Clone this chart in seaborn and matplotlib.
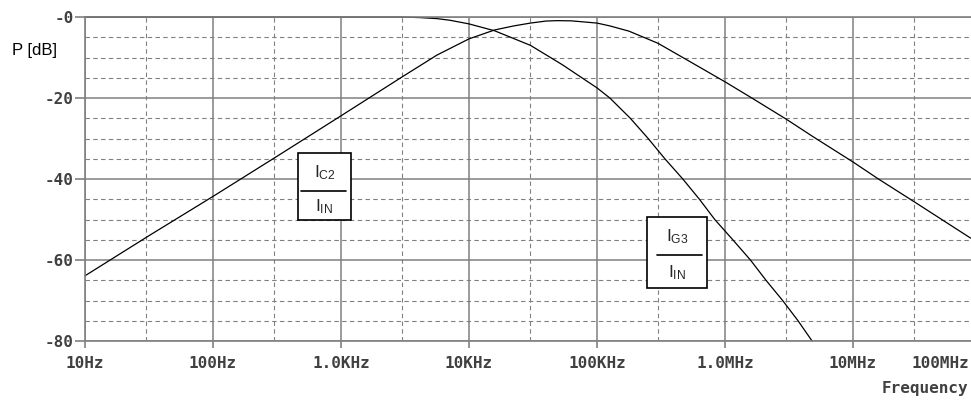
import matplotlib
matplotlib.use("Agg")
import matplotlib.pyplot as plt
import matplotlib.ticker as mticker
from matplotlib.patches import Rectangle
from matplotlib.lines import Line2D
import pandas as pd
import seaborn as sns

# I_G3 / I_IN  (low-pass)
freq_g3 = [10, 1000, 3000, 4170, 5620, 7080, 10000, 15850, 30200, 53700, 100000,
           126000, 182000, 251000, 339000, 468000, 631000, 832000, 1.15e6, 1.58e6,
           2.09e6, 2.82e6, 3.72e6, 4.79e6]
db_g3 = [0, 0, 0, -0.15, -0.4, -0.8, -1.7, -3.4, -7.0, -11.8, -17.5,
         -20, -25, -30, -35, -40, -45, -50, -55, -60,
         -65, -70, -75, -80]

# I_C2 / I_IN  (band-pass)
freq_c2 = [10, 31.6, 100, 316, 1000, 3000, 5620, 10000, 15850, 22400, 30200, 40000,
           49000, 63000, 100000, 126000, 178000, 300000, 468000, 1e6, 1.62e6, 3e6,
           4.9e6, 1e7, 1.58e7, 3e7, 8.3e7]
db_c2 = [-63.9, -54.0, -44.3, -34.4, -24.4, -14.8, -9.4, -5.4, -3.2, -2.2, -1.5, -1.0,
         -0.9, -0.95, -1.5, -2.2, -3.5, -6.5, -10, -16, -20, -25.2,
         -29.6, -35.8, -40, -45.6, -54.6]

xticks = [10, 100, 1e3, 1e4, 1e5, 1e6, 1e7, 1e8]
xlabels = ["10Hz", "100Hz", "1.0KHz", "10KHz", "100KHz", "1.0MHz", "10MHz", "100MHz"]
yticks = [-80, -60, -40, -20, 0]
ylabels = ["-80", "-60", "-40", "-20", "-0"]

df = pd.concat([
    pd.DataFrame({"f": freq_g3, "db": db_g3, "curve": "G3"}),
    pd.DataFrame({"f": freq_c2, "db": db_c2, "curve": "C2"}),
])

sns.set_style("white")
plt.rcParams["font.family"] = ["DejaVu Sans"]
plt.rcParams["mathtext.fontset"] = "custom"
plt.rcParams["mathtext.rm"] = "Liberation Sans"
plt.rcParams["mathtext.it"] = "Liberation Sans"

W, H = 971, 401
fig = plt.figure(figsize=(W / 100, H / 100), dpi=100)
ax = fig.add_axes([85 / W, 60 / H, 896 / W, 324 / H])

grid_c = "#808080"
txt_c = "#404040"
ax.set_xscale("log")
ax.set_xlim(10, 1e8)
ax.set_ylim(-80, 0)

# last decade label sits off the right edge, so it is drawn separately below
ax.set_xticks(xticks)
ax.set_xticklabels(xlabels[:-1] + [""])
ax.xaxis.set_minor_locator(mticker.LogLocator(base=10, subs=[3.0], numticks=20))
ax.xaxis.set_minor_formatter(mticker.NullFormatter())
ax.set_yticks(yticks)
ax.set_yticklabels(ylabels)
ax.yaxis.set_minor_locator(mticker.MultipleLocator(5))

ax.grid(which="major", color=grid_c, linewidth=1.1, linestyle="-")
ax.grid(which="minor", color=grid_c, linewidth=0.8, linestyle=(0, (4, 3)))
ax.set_axisbelow(True)

sns.lineplot(data=df, x="f", y="db", hue="curve", palette={"G3": "black", "C2": "black"},
             linewidth=0.9, legend=False, sort=False, estimator=None, ax=ax)
for ln in ax.lines:
    ln.set_clip_on(False)

for side in ["left", "top", "bottom"]:
    ax.spines[side].set_color(grid_c)
    ax.spines[side].set_linewidth(1.2)
ax.spines["right"].set_visible(False)

tick_font = dict(family="DejaVu Sans Mono", weight="bold", size=11.5, color=txt_c)
for lab in ax.get_xticklabels() + ax.get_yticklabels():
    lab.set_fontfamily("DejaVu Sans Mono")
    lab.set_fontweight("bold")
    lab.set_fontsize(11.5)
    lab.set_color(txt_c)
ax.tick_params(axis="y", which="major", length=7, width=1.2, color=grid_c, pad=1, left=True)
ax.tick_params(axis="x", which="major", length=5, width=1.2, color=grid_c, pad=6, bottom=True)
ax.tick_params(which="minor", length=0)
ax.set_xlabel("")
ax.set_ylabel("")

fig.text(969 / W, 1 - 363 / H, xlabels[-1], ha="right", va="center", **tick_font)
fig.text(968 / W, 1 - 389 / H, "Frequency", ha="right", va="center", **tick_font)
fig.text(12 / W, 1 - 50 / H, "P [dB]", ha="left", va="center", family="Liberation Sans",
         size=12, color="black")


def px(x, y):
    return x / W, 1 - y / H


def frac_box(x0, y0, x1, y1, ybar, bar_x0, bar_x1, num, den):
    bx, by = px(x0, y1)
    fig.patches.append(Rectangle((bx, by), (x1 - x0) / W, (y1 - y0) / H, transform=fig.transFigure,
                                 facecolor="white", edgecolor="black", linewidth=1.2, zorder=5))
    fig.lines.append(Line2D([bar_x0 / W, bar_x1 / W], [1 - ybar / H] * 2, transform=fig.transFigure,
                            color="black", linewidth=1.2, zorder=6))
    cx = (x0 + x1) / 2
    fig.text(*px(cx, (y0 + ybar) / 2 + 1), num, ha="center", va="center", size=12.5, zorder=7)
    fig.text(*px(cx, (ybar + y1) / 2 + 1), den, ha="center", va="center", size=12.5, zorder=7)


frac_box(298, 153, 351, 220, 191, 301, 346, r"$\mathrm{I_{C2}}$", r"$\mathrm{I_{IN}}$")
frac_box(647, 217, 707, 288, 255, 657, 702, r"$\mathrm{I_{G3}}$", r"$\mathrm{I_{IN}}$")

fig.savefig("out.png", dpi=100)
